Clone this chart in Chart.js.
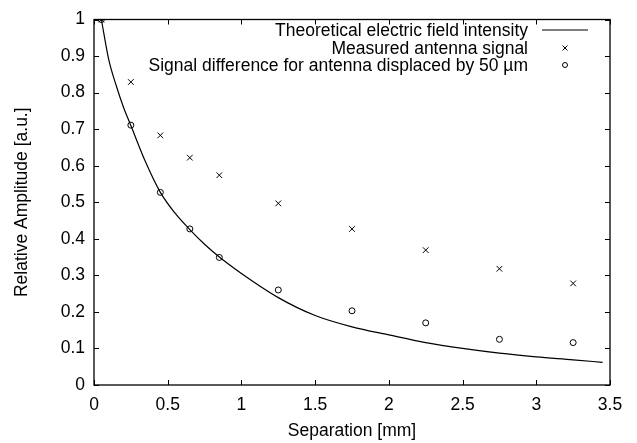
<!DOCTYPE html>
<html lang="en">
<head>
  <meta charset="UTF-8">
  <title>Relative amplitude vs separation</title>
  <script src="https://cdn.jsdelivr.net/npm/chart.js"></script>
  <style>
    html, body {
      margin: 0;
      padding: 0;
      background: #fff;
    }
    .chart-box {
      width: 637px;
      height: 443px;
    }
  </style>
</head>
<body>
  <div class="chart-box">
    <canvas id="ampChart" width="637" height="443"></canvas>
  </div>

  <script>
    // theoretical curve
    const curveX = [0.05, 0.1, 0.15, 0.2, 0.25, 0.35, 0.45, 0.55, 0.65, 0.75, 0.85, 1.0, 1.25, 1.5, 1.75, 2.0, 2.25, 2.5, 2.75, 3.0, 3.25, 3.45];
    const curveY = [1.0, 0.89, 0.82, 0.76, 0.71, 0.61, 0.527, 0.47, 0.425, 0.385, 0.35, 0.305, 0.239, 0.19, 0.159, 0.137, 0.116, 0.1, 0.087, 0.077, 0.069, 0.062];

    // measured points
    const separation = [0.05, 0.25, 0.45, 0.65, 0.85, 1.25, 1.75, 2.25, 2.75, 3.25];
    const measured = [1.0, 0.829, 0.683, 0.622, 0.574, 0.497, 0.427, 0.369, 0.318, 0.278];
    const difference = [1.0, 0.711, 0.527, 0.427, 0.349, 0.26, 0.203, 0.17, 0.125, 0.116];

    const seriesNames = [
      'Theoretical electric field intensity',
      'Measured antenna signal',
      'Signal difference for antenna displaced by 50 \u00b5m'
    ];

    const xTickLabels = ['0', '0.5', '1', '1.5', '2', '2.5', '3', '3.5'];
    const yTickLabels = ['0', '0.1', '0.2', '0.3', '0.4', '0.5', '0.6', '0.7', '0.8', '0.9', '1'];

    const toPoints = (xs, ys) => xs.map((x, i) => ({ x: x, y: ys[i] }));

    Chart.defaults.font.family = '"Liberation Sans", Arial, Helvetica, sans-serif';
    Chart.defaults.font.size = 17.5;
    Chart.defaults.color = '#000';

    // gnuplot-like frame, inward ticks and key in the top right corner
    const framePlugin = {
      id: 'frame',
      afterDatasetsDraw(chart) {
        const ctx = chart.ctx;
        const area = chart.chartArea;
        const xs = chart.scales.x;
        const ys = chart.scales.y;
        const tl = 5;

        ctx.save();
        ctx.strokeStyle = '#000';
        ctx.lineWidth = 1.3;
        ctx.strokeRect(area.left, area.top, area.right - area.left, area.bottom - area.top);

        ctx.lineWidth = 1;
        ctx.beginPath();
        xs.ticks.forEach(t => {
          const px = Math.round(xs.getPixelForValue(t.value)) + 0.5;
          ctx.moveTo(px, area.bottom); ctx.lineTo(px, area.bottom - tl);
          ctx.moveTo(px, area.top); ctx.lineTo(px, area.top + tl);
        });
        ys.ticks.forEach(t => {
          const py = Math.round(ys.getPixelForValue(t.value)) + 0.5;
          ctx.moveTo(area.left, py); ctx.lineTo(area.left + tl, py);
          ctx.moveTo(area.right, py); ctx.lineTo(area.right - tl, py);
        });
        ctx.stroke();

        // key
        const textRight = 528;
        const sampleX = 565;
        const rowY = [30, 48, 65];
        ctx.font = '17.5px "Liberation Sans", Arial, sans-serif';
        ctx.textAlign = 'right';
        ctx.textBaseline = 'middle';
        chart.data.datasets.forEach((ds, i) => {
          const y = rowY[i];
          ctx.fillStyle = '#000';
          ctx.fillText(ds.label, textRight, y + 1);
          if (ds.showLine) {
            ctx.lineWidth = 1.2;
            ctx.beginPath();
            ctx.moveTo(542, y);
            ctx.lineTo(588, y);
            ctx.stroke();
          } else {
            ctx.lineWidth = 1;
            ctx.fillStyle = 'rgba(0,0,0,0)';
            Chart.helpers.drawPoint(ctx, {
              pointStyle: ds.pointStyle,
              radius: ds.pointRadius - 0.5,
              borderWidth: 1
            }, sampleX, y);
          }
        });
        ctx.restore();
      }
    };

    const ctx = document.getElementById('ampChart').getContext('2d');

    new Chart(ctx, {
      type: 'scatter',
      data: {
        datasets: [
          {
            label: seriesNames[0],
            data: toPoints(curveX, curveY),
            showLine: true,
            cubicInterpolationMode: 'monotone',
            borderColor: '#000',
            borderWidth: 1.2,
            pointRadius: 0,
            fill: false
          },
          {
            label: seriesNames[1],
            data: toPoints(separation, measured),
            showLine: false,
            pointStyle: 'crossRot',
            pointRadius: 4,
            borderColor: '#000',
            backgroundColor: 'transparent',
            pointBorderWidth: 1
          },
          {
            label: seriesNames[2],
            data: toPoints(separation, difference),
            showLine: false,
            pointStyle: 'circle',
            pointRadius: 3,
            borderColor: '#000',
            backgroundColor: 'transparent',
            pointBorderWidth: 1
          }
        ]
      },
      options: {
        responsive: false,
        animation: false,
        layout: {
          padding: { top: 15, right: 27, bottom: 0, left: 0 }
        },
        plugins: {
          legend: { display: false },
          tooltip: { enabled: false }
        },
        scales: {
          x: {
            type: 'linear',
            min: 0,
            max: 3.5,
            afterFit: s => { s.height = 58; },
            afterBuildTicks: s => {
              s.ticks = xTickLabels.map(v => ({ value: parseFloat(v) }));
            },
            ticks: {
              padding: 10,
              maxRotation: 0,
              callback: (v, i) => xTickLabels[i]
            },
            grid: { display: false, drawTicks: false },
            border: { display: false },
            title: {
              display: true,
              text: 'Separation [mm]',
              padding: { top: 0, bottom: 1 }
            }
          },
          y: {
            type: 'linear',
            min: 0,
            max: 1,
            afterFit: s => { s.width = 94; },
            afterBuildTicks: s => {
              s.ticks = yTickLabels.map(v => ({ value: parseFloat(v) }));
            },
            ticks: {
              padding: 9,
              callback: (v, i) => yTickLabels[i]
            },
            grid: { display: false, drawTicks: false },
            border: { display: false },
            title: {
              display: true,
              text: 'Relative Amplitude [a.u.]',
              padding: { top: 12, bottom: 0 }
            }
          }
        }
      },
      plugins: [framePlugin]
    });
  </script>
</body>
</html>
